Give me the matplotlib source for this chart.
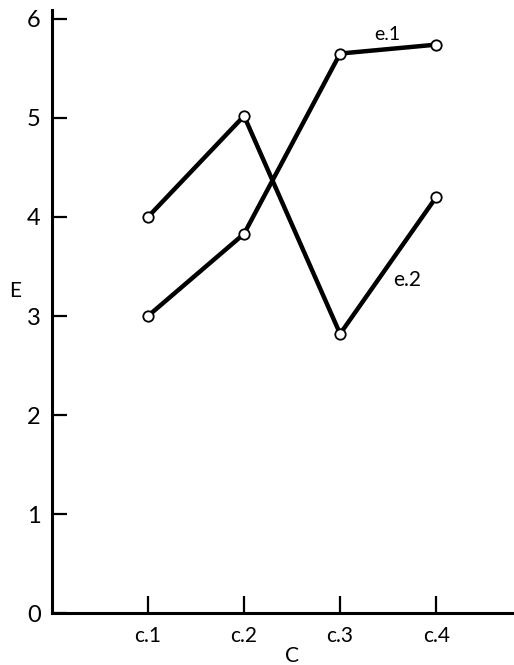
import matplotlib
matplotlib.use("Agg")
import matplotlib.pyplot as plt

plt.rcParams['font.family'] = ['Lato', 'DejaVu Sans']

categories = ["c.1", "c.2", "c.3", "c.4"]
e1_values = [3.0, 3.83, 5.65, 5.74]   # series e.1
e2_values = [4.0, 5.02, 2.82, 4.2]    # series e.2
y_ticks = [0, 1, 2, 3, 4, 5, 6]

x = [1, 2, 3, 4]

fig = plt.figure(figsize=(5.14, 6.65), dpi=100)
ax = fig.add_axes([0.101, 0.078, 0.899, 0.907])

for vals in (e1_values, e2_values):
    ax.plot(x, vals, color="black", linewidth=3.2, marker="o", markersize=7.5,
            markerfacecolor="white", markeredgecolor="black", markeredgewidth=1.3,
            solid_capstyle="butt", zorder=3)

ax.text(3.49, 5.84, "e.1", fontsize=14, ha="center", va="center")
ax.text(3.70, 3.36, "e.2", fontsize=15, ha="center", va="center")

ax.set_xlim(0, 4.81)
ax.set_ylim(0, 6.09)
ax.set_xticks(x)
ax.set_xticklabels(categories, fontsize=15)
ax.set_yticks(y_ticks)
ax.set_yticklabels([str(v) for v in y_ticks], fontsize=17)

ax.spines["top"].set_visible(False)
ax.spines["right"].set_visible(False)
ax.spines["left"].set_linewidth(2.2)
ax.spines["bottom"].set_linewidth(2.2)
ax.tick_params(axis="y", direction="in", length=11, width=1.6, pad=8)
ax.tick_params(axis="x", direction="in", length=12, width=1.6, pad=9)

ax.text(-0.38, 3.25, "E", fontsize=15, ha="center", va="center")
fig.text(292 / 514, 1 - 656 / 665, "C", fontsize=15, ha="center", va="center")

fig.savefig("out.png", dpi=100)
